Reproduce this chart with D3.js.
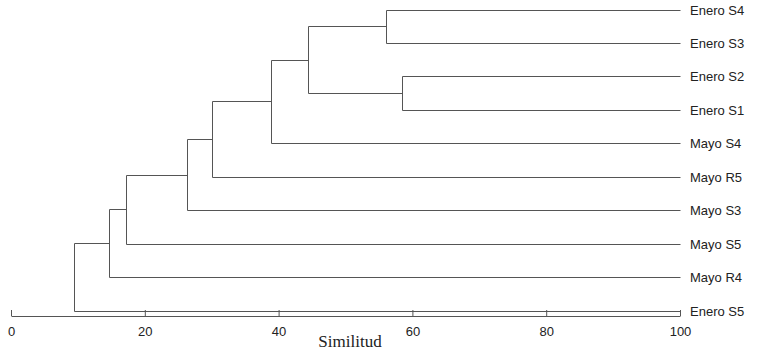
<!DOCTYPE html>
<html>
<head>
<meta charset="utf-8">
<script src="https://cdn.jsdelivr.net/npm/d3@7"></script>
<style>
    body { margin: 0; background: #fff; }
    .leaf-label { font-family: "Liberation Sans", Arial, sans-serif; font-size: 13px; fill: #222; }
    .axis text { font-family: "Liberation Sans", Arial, sans-serif; font-size: 13px; fill: #222; }
    .axis line, .axis path { stroke: #555; }
    .axis-title { font-family: "Liberation Serif", "Times New Roman", serif; font-size: 17px; fill: #222; }
</style>
</head>
<body>
<div id="chart"></div>
<script>
// leaf order, top to bottom
const leaves = ["Enero S4", "Enero S3", "Enero S2", "Enero S1", "Mayo S4",
    "Mayo R5", "Mayo S3", "Mayo S5", "Mayo R4", "Enero S5"];

// merges: [left child, right child, similarity]; children are leaf names or earlier merge ids ("m0", "m1", ...)
const merges = [
    ["Enero S4", "Enero S3", 56.0],
    ["Enero S2", "Enero S1", 58.5],
    ["m0", "m1", 44.4],
    ["m2", "Mayo S4", 38.8],
    ["m3", "Mayo R5", 30.0],
    ["m4", "Mayo S3", 26.3],
    ["m5", "Mayo S5", 17.2],
    ["m6", "Mayo R4", 14.7],
    ["m7", "Enero S5", 9.4]
];

const axisTicks = [0, 20, 40, 60, 80, 100];
const axisLabel = "Similitud";

const width = 771, height = 360;

const svg = d3.select("#chart").append("svg")
    .attr("width", width)
    .attr("height", height);

// scales
const x = d3.scaleLinear().domain([0, 100]).range([11, 680]);
const y = d3.scalePoint().domain(leaves).range([9.5, 310.5]);

// node positions: leaves sit at 100, merges at their similarity, y is midpoint of children
let nodes = {};
leaves.forEach(l => nodes[l] = { sim: 100, y: y(l) });
merges.forEach((m, i) => {
    nodes["m" + i] = { sim: m[2], y: (nodes[m[0]].y + nodes[m[1]].y) / 2 };
});

let segs = [];
merges.forEach(m => {
    let a = nodes[m[0]], b = nodes[m[1]];
    segs.push([x(m[2]), a.y, x(m[2]), b.y]);       // vertical
    segs.push([x(m[2]), a.y, x(a.sim), a.y]);       // branch to first child
    segs.push([x(m[2]), b.y, x(b.sim), b.y]);       // branch to second child
});

svg.append("g")
    .selectAll("line")
    .data(segs)
    .enter().append("line")
    .attr("x1", d => Math.round(d[0]) + 0.5)
    .attr("y1", d => Math.round(d[1]) + 0.5)
    .attr("x2", d => Math.round(d[2]) + 0.5)
    .attr("y2", d => Math.round(d[3]) + 0.5)
    .attr("stroke", "#555")
    .attr("stroke-width", 1);

// leaf labels
svg.append("g")
    .selectAll("text")
    .data(leaves)
    .enter().append("text")
    .attr("class", "leaf-label")
    .attr("x", 690)
    .attr("y", d => y(d) + 5)
    .text(d => d);

// axis with upward ticks
const axis = d3.axisBottom(x)
    .tickValues(axisTicks)
    .tickFormat(d3.format("d"))
    .tickSizeInner(-6)
    .tickSizeOuter(0)
    .tickPadding(11);

svg.append("g")
    .attr("class", "axis")
    .attr("transform", "translate(0, 316)")
    .call(axis);

svg.append("text")
    .attr("class", "axis-title")
    .attr("x", 350)
    .attr("y", 347)
    .attr("text-anchor", "middle")
    .text(axisLabel);
</script>
</body>
</html>
